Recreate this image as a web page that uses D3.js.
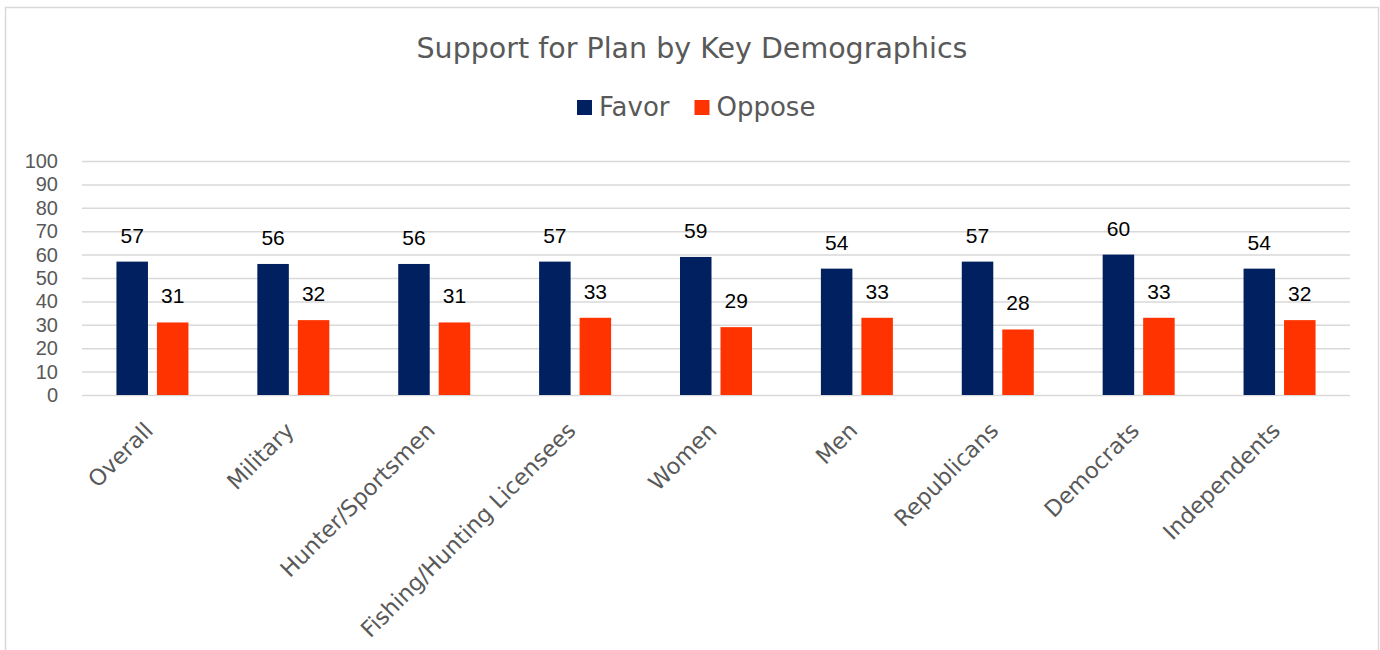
<!DOCTYPE html>
<html>
  <head>
    <meta charset="utf-8">
    <title>Support for Plan by Key Demographics</title>
    <style>
      body { margin: 0; background: #fff; }
      .tick text { font-family: "Liberation Sans", sans-serif; font-size: 20px; fill: #595959; }
      .cat-label { font-family: "DejaVu Sans", sans-serif; font-size: 22.5px; fill: #595959; }
      .value-label { font-family: "Liberation Sans", sans-serif; font-size: 21px; fill: #000; }
      .legend-label { font-family: "DejaVu Sans", sans-serif; font-size: 26px; fill: #595959; }
    </style>
  </head>
  <body>
    <div id="chart"></div>

    <script src="https://d3js.org/d3.v7.min.js"></script>
    <script>
      const categories = ['Overall', 'Military', 'Hunter/Sportsmen', 'Fishing/Hunting Licensees',
        'Women', 'Men', 'Republicans', 'Democrats', 'Independents'];
      const series = ['Favor', 'Oppose'];
      const favor = [57, 56, 56, 57, 59, 54, 57, 60, 54];
      const oppose = [31, 32, 31, 33, 29, 33, 28, 33, 32];
      const yTicks = [0, 10, 20, 30, 40, 50, 60, 70, 80, 90, 100];

      const colors = { Favor: '#002060', Oppose: '#ff3300' };

      const width = 1380, height = 650;
      const plot = { left: 82, right: 1350, top: 161, bottom: 395 };

      const svg = d3.select('#chart')
        .append('svg')
        .attr('width', width)
        .attr('height', height);

      // chart frame
      svg.append('rect')
        .attr('x', 5.5)
        .attr('y', 7.5)
        .attr('width', 1373)
        .attr('height', 700)
        .attr('fill', 'none')
        .attr('stroke', '#d9d9d9')
        .attr('stroke-width', 1.5);

      svg.append('text')
        .attr('x', 692)
        .attr('y', 58)
        .attr('text-anchor', 'middle')
        .attr('font-family', '"DejaVu Sans", sans-serif')
        .attr('font-size', 28.5)
        .attr('fill', '#595959')
        .text('Support for Plan by Key Demographics');

      // legend
      let lx = 577;
      series.forEach(s => {
        svg.append('rect')
          .attr('x', lx)
          .attr('y', 100)
          .attr('width', 15)
          .attr('height', 15)
          .attr('fill', colors[s]);
        let t = svg.append('text')
          .attr('class', 'legend-label')
          .attr('x', lx + 22)
          .attr('y', 116)
          .text(s);
        lx += 22 + t.node().getComputedTextLength() + 25;
      });

      const y = d3.scaleLinear()
        .domain([0, 100])
        .range([plot.bottom, plot.top]);

      const x0 = d3.scaleBand()
        .domain(categories)
        .range([plot.left, plot.right]);

      const groupW = 72;
      const x1 = d3.scaleBand()
        .domain(series)
        .range([0, groupW])
        .paddingInner(0.222);

      // gridlines + y labels
      const yAxis = svg.append('g')
        .attr('transform', `translate(${plot.left},0)`)
        .call(d3.axisLeft(y)
          .tickValues(yTicks)
          .tickSize(-(plot.right - plot.left))
          .tickPadding(24));
      yAxis.select('.domain').remove();
      yAxis.selectAll('.tick line')
        .attr('stroke', '#d9d9d9')
        .attr('stroke-width', 1.5);

      const rows = categories.map((c, i) => ({ cat: c, Favor: favor[i], Oppose: oppose[i] }));

      const groups = svg.append('g')
        .selectAll('g')
        .data(rows)
        .enter()
        .append('g')
        .attr('transform', d => `translate(${x0(d.cat) + x0.bandwidth() / 2 - groupW / 2},0)`);

      groups.selectAll('rect')
        .data(d => series.map(s => ({ key: s, value: d[s] })))
        .enter()
        .append('rect')
        .attr('x', d => x1(d.key))
        .attr('y', d => y(d.value))
        .attr('width', x1.bandwidth())
        .attr('height', d => y(0) - y(d.value))
        .attr('fill', d => colors[d.key]);

      groups.selectAll('.value-label')
        .data(d => series.map(s => ({ key: s, value: d[s] })))
        .enter()
        .append('text')
        .attr('class', 'value-label')
        .attr('x', d => x1(d.key) + x1.bandwidth() / 2)
        .attr('y', d => y(d.value) - 19)
        .attr('text-anchor', 'middle')
        .text(d => d.value);

      // rotated category labels
      svg.append('g')
        .selectAll('text')
        .data(categories)
        .enter()
        .append('text')
        .attr('class', 'cat-label')
        .attr('text-anchor', 'end')
        .attr('transform', d => `translate(${x0(d) + x0.bandwidth() / 2 + 2},${plot.bottom + 37}) rotate(-45)`)
        .text(d => d);
    </script>
  </body>
</html>
